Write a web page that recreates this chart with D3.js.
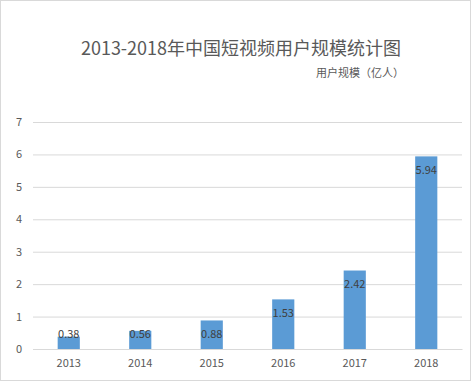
<!DOCTYPE html>
<html>
<head>
<meta charset="utf-8">
<script src="https://cdn.jsdelivr.net/npm/d3@7"></script>
<style>
  body { margin: 0; background: #fff; }
  text { font-family: "Noto Sans CJK SC", "Noto Sans", sans-serif; fill: #595959; }
</style>
</head>
<body>
<svg id="chart"></svg>
<script>
var width = 471;
var height = 381;

var years = ["2013", "2014", "2015", "2016", "2017", "2018"];
var users = [0.38, 0.56, 0.88, 1.53, 2.42, 5.94];
var yTicks = [0, 1, 2, 3, 4, 5, 6, 7];

var margin = {left: 33, right: 9, top: 122, bottom: 32};

var svg = d3.select("#chart")
            .attr("width", width)
            .attr("height", height);

// outer frame
svg.append("rect")
    .attr("x", 0.5).attr("y", 0.5)
    .attr("width", width - 1).attr("height", height - 1)
    .attr("fill", "#fff")
    .attr("stroke", "#d9d9d9");

var xScale = d3.scaleBand()
               .domain(years)
               .range([margin.left, width - margin.right])
               .paddingInner(0.69)
               .paddingOuter(0.345);

var yScale = d3.scaleLinear()
               .domain([0, 7])
               .range([height - margin.bottom, margin.top]);

var yAxis = d3.axisLeft(yScale)
              .tickValues(yTicks)
              .tickFormat(d3.format("d"))
              .tickSize(-(width - margin.left - margin.right))
              .tickPadding(11);

var gy = svg.append("g")
    .attr("transform", "translate(" + margin.left + ",0)")
    .call(yAxis);
gy.select(".domain").remove();
gy.selectAll("line").attr("stroke", "#d9d9d9");
gy.selectAll("text").attr("font-size", 11).attr("fill", "#595959");

var xAxis = d3.axisBottom(xScale)
              .tickSize(0)
              .tickPadding(10);

var gx = svg.append("g")
    .attr("transform", "translate(0," + (height - margin.bottom) + ")")
    .call(xAxis);
gx.select(".domain").attr("stroke", "#d9d9d9");
gx.selectAll("text").attr("font-size", 11).attr("fill", "#595959");

svg.selectAll(".bar")
  .data(users)
  .enter()
  .append("rect")
    .classed("bar", true)
    .attr("x", (d, i) => xScale(years[i]))
    .attr("y", d => yScale(d))
    .attr("width", xScale.bandwidth())
    .attr("height", d => yScale(0) - yScale(d))
    .attr("fill", "#5b9bd5");

svg.selectAll(".label")
  .data(users)
  .enter()
  .append("text")
    .classed("label", true)
    .attr("x", (d, i) => xScale(years[i]) + xScale.bandwidth() / 2)
    .attr("y", d => Math.min(yScale(d) + 14, yScale(0) - 15))
    .attr("dy", "0.35em")
    .attr("text-anchor", "middle")
    .attr("font-size", 11)
    .style("fill", "#404040")
    .text(d => d.toFixed(2));

svg.append("text")
    .attr("x", 241)
    .attr("y", 55)
    .attr("text-anchor", "middle")
    .attr("font-size", 18)
    .text("2013-2018年中国短视频用户规模统计图");

svg.append("text")
    .attr("x", 404)
    .attr("y", 77)
    .attr("text-anchor", "end")
    .attr("font-size", 11)
    .text("用户规模（亿人）");
</script>
</body>
</html>
